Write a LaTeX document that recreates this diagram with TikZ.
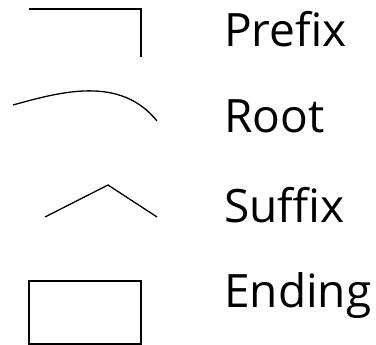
\documentclass[tikz,border=0pt]{standalone}
\usepackage{fontspec}
\setmainfont{Open Sans}
\tikzset{
  thick line/.style={line width=2pt},
  thin line/.style={line width=1.3pt},
  lbl/.style={anchor=base west, inner sep=0pt, font=\fontsize{46}{50}\selectfont}
}
\begin{document}
\begin{tikzpicture}[x=1pt,y=-1pt]
\useasboundingbox (0,0) rectangle (376,345);
% Prefix
\coordinate (p1) at (29,9);
\coordinate (p2) at (141,9);
\coordinate (p3) at (141,57);
\draw[thick line] (p1) -- (p2) -- (p3);
\node[lbl] (tp) at (224,47) {Prefix};
% Root
\coordinate (r1) at (13,105);
\coordinate (r2) at (157,121);
\draw[thin line] (r1) .. controls (60,92) and (120,75) .. (r2);
\node[lbl] (tr) at (224,133) {Root};
% Suffix
\coordinate (s1) at (45,217);
\coordinate (s2) at (108,185);
\coordinate (s3) at (157,217);
\draw[thin line] (s1) -- (s2) -- (s3);
\node[lbl] (ts) at (224,223) {Suffix};
% Ending
\node[draw, thick line, minimum width=112pt, minimum height=63pt, inner sep=0pt] (e) at (85,312.5) {};
\node[lbl] (te) at (224,308) {Ending};
\end{tikzpicture}
\end{document}
